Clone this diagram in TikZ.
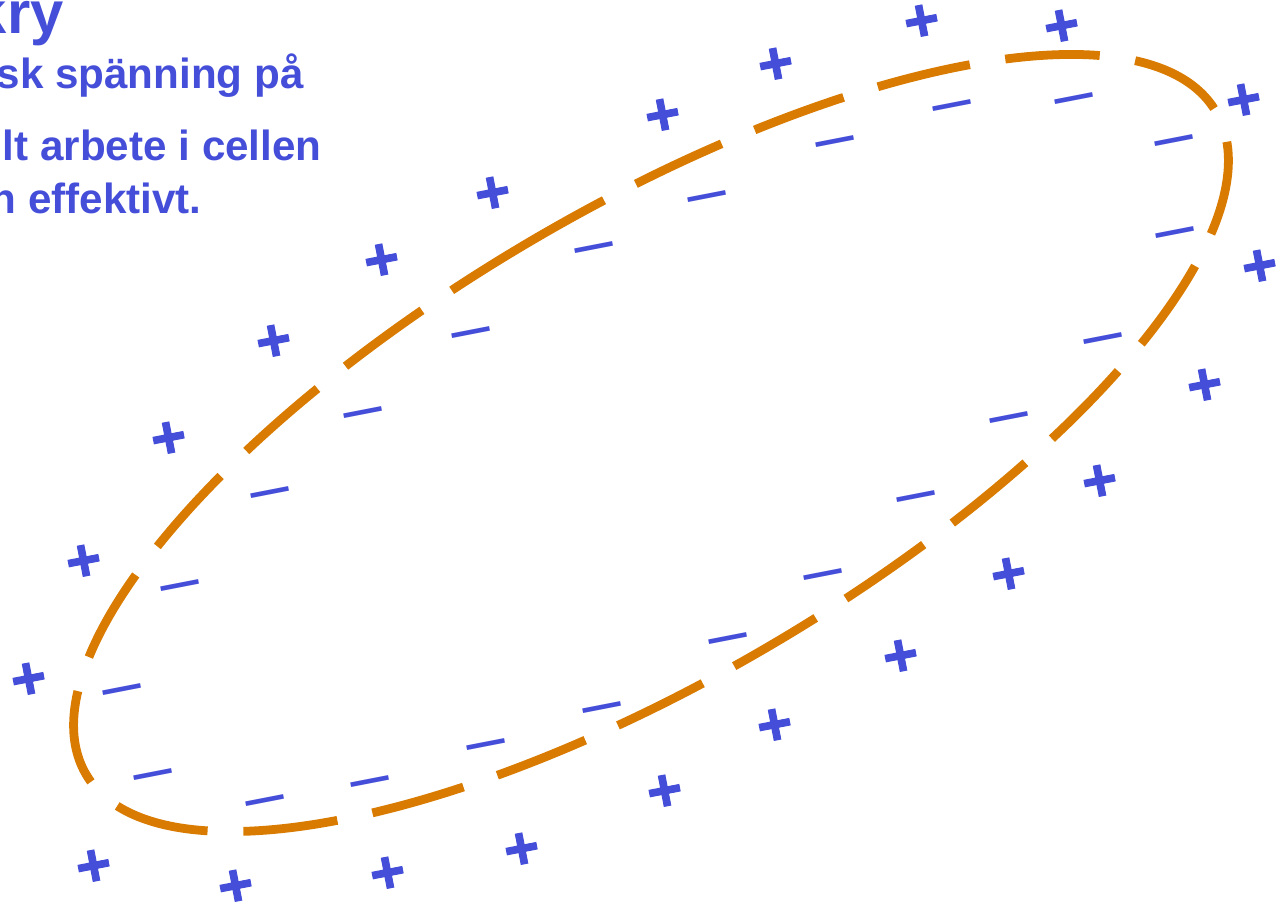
\documentclass[tikz,border=0pt]{standalone}
\usepackage{fontspec}
\setmainfont{Liberation Sans}
\newfontfamily\plusfont[FakeBold=1.6]{Liberation Sans Bold}
\usepackage{tikz}
\usetikzlibrary{calc}

\definecolor{laddning}{RGB}{68,78,216}
\definecolor{membran}{RGB}{217,123,0}

\begin{document}
\begin{tikzpicture}[x=0.02cm, y=-0.02cm,
    rubrik/.style={text=laddning, inner sep=0, anchor=base east,
        font=\fontsize{24}{29}\selectfont\bfseries},
    pcharge/.style={text=laddning, inner sep=0, rotate=11,
        font=\fontsize{34.5}{40}\selectfont\plusfont},
    ncharge/.style={text=laddning, inner sep=0, rotate=11, yshift=-4.5pt,
        font=\fontsize{39.5}{46}\selectfont}]
    \useasboundingbox (0,0) rectangle (1278,906);
    \clip (0,0) rectangle (1278,906);

    % 1. Texten uppe till vänster
    \node[rubrik, font=\fontsize{34}{40}\selectfont\bfseries] (titel) at (64,33) {kry};
    \node[rubrik] (rad1) at (304,88) {sk spänning på};
    \node[rubrik] (rad2) at (322,160) {lt arbete i cellen};
    \node[rubrik] (rad3) at (202,213) {n effektivt.};

    % 2. Cellmembranet
    \draw[membran, line width=5pt, dash pattern=on 53.9pt off 20.4pt,
        rotate around={30.4:(651,443)}]
        (651,208) arc[start angle=270, end angle=-90, x radius=655, y radius=235];

    % 3. Laddningar utanför
    \foreach \p [count=\i] in {(922,23),(1062,28),(776,66),(663,117),(1244,102),
        (493,195),(382,262),(1260,268),(274,343),(1205,387),(169,440),(1100,483),
        (84,563),(1009,576),(29,681),(901,658),(775,727),(665,793),(522,851),
        (388,875),(236,888),(94,868)} {
        \node[pcharge] (p\i) at \p {+};
    }

    % 4. Laddningar innanför
    \foreach \m [count=\i] in {(952,105),(1074,98),(835,141),(1174,140),(707,196),
        (1175,232),(594,247),(471,332),(1103,338),(363,412),(1009,417),(270,492),
        (916,496),(180,585),(823,574),(728,638),(122,689),(602,707),(486,744),
        (153,774),(370,781),(265,800)} {
        \node[ncharge] (m\i) at \m {–};
    }
\end{tikzpicture}
\end{document}
